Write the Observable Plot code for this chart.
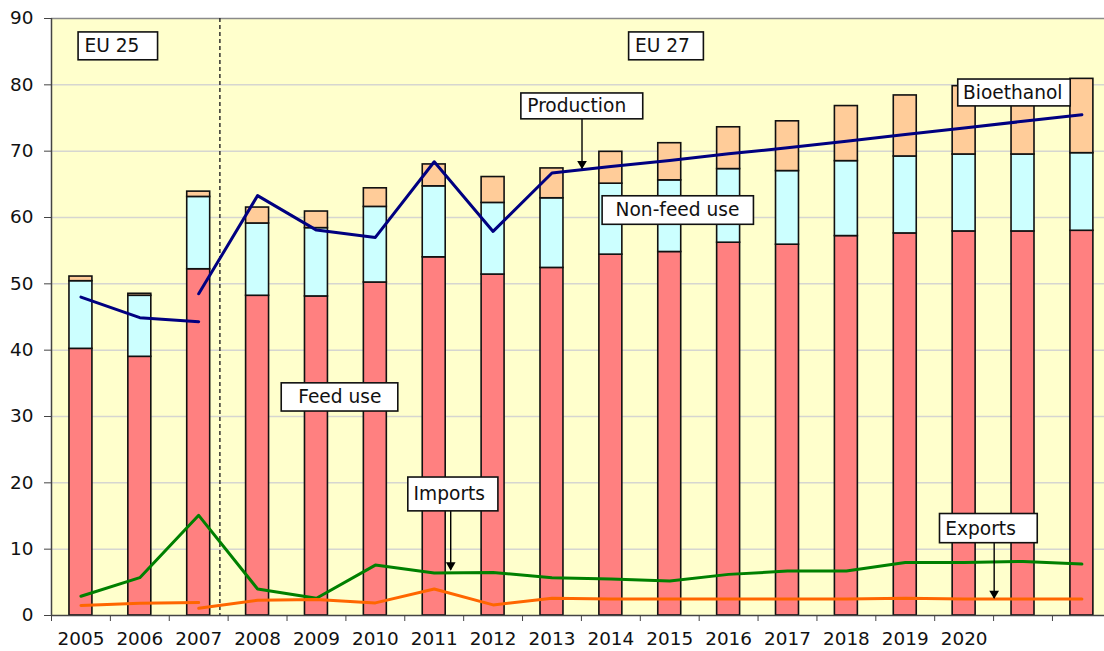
<!DOCTYPE html>
<html>
<head>
<meta charset="utf-8">
<script src="https://cdn.jsdelivr.net/npm/d3@7"></script>
<script src="https://cdn.jsdelivr.net/npm/@observablehq/plot@0.6"></script>
<style>
  html, body { margin: 0; padding: 0; background: #ffffff; }
  #chart svg { display: block; }
</style>
</head>
<body>
<div id="chart"></div>
<script>
// ---- Data ----
const yearLabels = ["2005","2006","2007","2008","2009","2010","2011","2012","2013","2014","2015","2016","2017","2018","2019","2020","",""];
const feedUse    = [40.2, 39.0, 52.2, 48.2, 48.1, 50.2, 54.0, 51.4, 52.4, 54.4, 54.8, 56.2, 55.9, 57.2, 57.6, 57.9, 57.9, 58.0];
const nonFeedUse = [10.2,  9.2, 10.9, 10.9, 10.3, 11.4, 10.7, 10.8, 10.5, 10.7, 10.8, 11.1, 11.1, 11.3, 11.6, 11.6, 11.6, 11.7];
const bioethanol = [ 0.7,  0.3,  0.8,  2.4,  2.5,  2.8,  3.3,  3.9,  4.5,  4.8,  5.6,  6.3,  7.5,  8.3,  9.2, 10.3, 10.8, 11.2];
// Production: EU25 (2005-2007) and EU27 (2007-2022)
const productionEU25 = [48.0, 44.9, 44.3];
const productionEU27 = [48.5, 63.3, 58.1, 57.0, 68.4, 57.9, 66.7, 67.7, 68.6, 69.6, 70.5, 71.5, 72.5, 73.5, 74.5, 75.5];
const imports = [2.9, 5.7, 15.1, 4.0, 2.6, 7.6, 6.4, 6.5, 5.7, 5.5, 5.2, 6.2, 6.7, 6.7, 8.0, 8.0, 8.15, 7.75];
const exportsEU25 = [1.5, 1.85, 1.95];
const exportsEU27 = [1.1, 2.3, 2.4, 1.9, 4.0, 1.6, 2.6, 2.5, 2.5, 2.5, 2.5, 2.5, 2.6, 2.5, 2.5, 2.5];
const yTicks = [0, 10, 20, 30, 40, 50, 60, 70, 80, 90];
const seriesNames = ["Feed use", "Non-feed use", "Bioethanol"];
const seriesColors = ["#FF8080", "#CCFFFF", "#FFCC99"];
// Annotations (in data units: category index, value)
const labelBoxes = [
  {text: "EU 25",        x1: 0.46,  x2: 1.81,  y1: 83.7,  y2: 87.9,  tx: 0.56,  ty: 85.8},
  {text: "EU 27",        x1: 9.81,  x2: 11.08, y1: 83.7,  y2: 87.9,  tx: 9.91,  ty: 85.8},
  {text: "Production",   x1: 7.98,  x2: 10.05, y1: 74.8,  y2: 78.7,  tx: 8.08,  ty: 76.75},
  {text: "Non-feed use", x1: 9.36,  x2: 11.93, y1: 58.9,  y2: 63.2,  tx: 9.58,  ty: 61.05},
  {text: "Bioethanol",   x1: 15.40, x2: 17.31, y1: 76.75, y2: 80.8,  tx: 15.48, ty: 78.75},
  {text: "Feed use",     x1: 3.91,  x2: 5.89,  y1: 30.75, y2: 35.0,  tx: 4.19,  ty: 32.9},
  {text: "Imports",      x1: 6.06,  x2: 7.59,  y1: 15.7,  y2: 20.8,  tx: 6.15,  ty: 18.25},
  {text: "Exports",      x1: 15.09, x2: 16.75, y1: 10.9,  y2: 15.3,  tx: 15.18, ty: 13.1}
];
const arrows = [
  {x: 9.01,  y1: 74.8, y2: 67.35},
  {x: 6.78,  y1: 15.7, y2: 6.85},
  {x: 16.01, y1: 10.9, y2: 2.57}
];
const regionDivider = 2.86;

// ---- Derived tables ----
const n = yearLabels.length;
const barWidth = 0.39;
const stacked = [];
for (let i = 0; i < n; i++) {
  let base = 0;
  [feedUse[i], nonFeedUse[i], bioethanol[i]].forEach((v, k) => {
    stacked.push({i, series: seriesNames[k], x1: i + 0.5 - barWidth / 2, x2: i + 0.5 + barWidth / 2, y1: base, y2: base + v});
    base += v;
  });
}
const prod25 = productionEU25.map((v, i) => ({x: i + 0.5, y: v}));
const prod27 = productionEU27.map((v, i) => ({x: i + 2.5, y: v}));
const imp = imports.map((v, i) => ({x: i + 0.5, y: v}));
const exp25 = exportsEU25.map((v, i) => ({x: i + 0.5, y: v}));
const exp27 = exportsEU27.map((v, i) => ({x: i + 2.5, y: v}));
const boundaries = d3.range(0, n);
const centers = d3.range(0, n).map(i => i + 0.5);

const W = 1104, H = 651, mL = 51, mR = 0, mT = 18, mB = 36;
const catWidthPx = 58.88;
const xMax = (W - mL - mR) / catWidthPx;

const chart = Plot.plot({
  width: W,
  height: H,
  marginLeft: mL,
  marginRight: mR,
  marginTop: mT,
  marginBottom: mB,
  style: {fontFamily: "'DejaVu Sans', Verdana, sans-serif", fontSize: "18px", color: "#111", background: "#ffffff", overflow: "visible"},
  x: {type: "linear", domain: [0, xMax], axis: null},
  y: {domain: [0, 90], axis: null},
  color: {domain: seriesNames, range: seriesColors},
  marks: [
    Plot.frame({fill: "#FFFFCC", stroke: null}),
    Plot.ruleY(yTicks.filter(d => d > 0 && d < 90), {stroke: "#d6d6d0", strokeWidth: 1.5}),
    Plot.ruleY([90], {stroke: "#8a8a8a", strokeWidth: 1.5}),
    Plot.rect(stacked, {x1: "x1", x2: "x2", y1: "y1", y2: "y2", fill: "series", stroke: "#111", strokeWidth: 1.6}),
    Plot.ruleX([regionDivider], {stroke: "#222", strokeWidth: 1.4, strokeDasharray: "4,3"}),
    Plot.line(imp, {x: "x", y: "y", stroke: "#008000", strokeWidth: 3}),
    Plot.line(exp25, {x: "x", y: "y", stroke: "#FF6600", strokeWidth: 3}),
    Plot.line(exp27, {x: "x", y: "y", stroke: "#FF6600", strokeWidth: 3}),
    Plot.line(prod25, {x: "x", y: "y", stroke: "#000080", strokeWidth: 3}),
    Plot.line(prod27, {x: "x", y: "y", stroke: "#000080", strokeWidth: 3}),
    // annotation arrows
    Plot.ruleX(arrows, {x: "x", y1: "y1", y2: "y2", stroke: "#000", strokeWidth: 1.4}),
    Plot.dot(arrows, {x: "x", y: "y2", symbol: "triangle", r: 3.6, rotate: 180, fill: "#000", stroke: null, dy: -5}),
    // annotation boxes
    Plot.rect(labelBoxes, {x1: "x1", x2: "x2", y1: "y1", y2: "y2", fill: "#ffffff", stroke: "#111", strokeWidth: 1.6}),
    Plot.text(labelBoxes, {x: "tx", y: "ty", text: "text", textAnchor: "start", fontSize: 18.6, fill: "#111"}),
    // axes
    Plot.ruleX([0], {stroke: "#444", strokeWidth: 1.5}),
    Plot.ruleY([0], {stroke: "#444", strokeWidth: 1.5}),
    Plot.axisY({ticks: yTicks, tickSize: 7, tickPadding: 11, fontSize: 18.4, stroke: "#444"}),
    Plot.axisX({ticks: boundaries, tickFormat: () => "", tickSize: 6, stroke: "#444"}),
    Plot.axisX({ticks: centers, tickFormat: d => yearLabels[Math.floor(d)], tickSize: 0, tickPadding: 16, fontSize: 18.4})
  ]
});
document.getElementById("chart").appendChild(chart);
</script>
</body>
</html>
